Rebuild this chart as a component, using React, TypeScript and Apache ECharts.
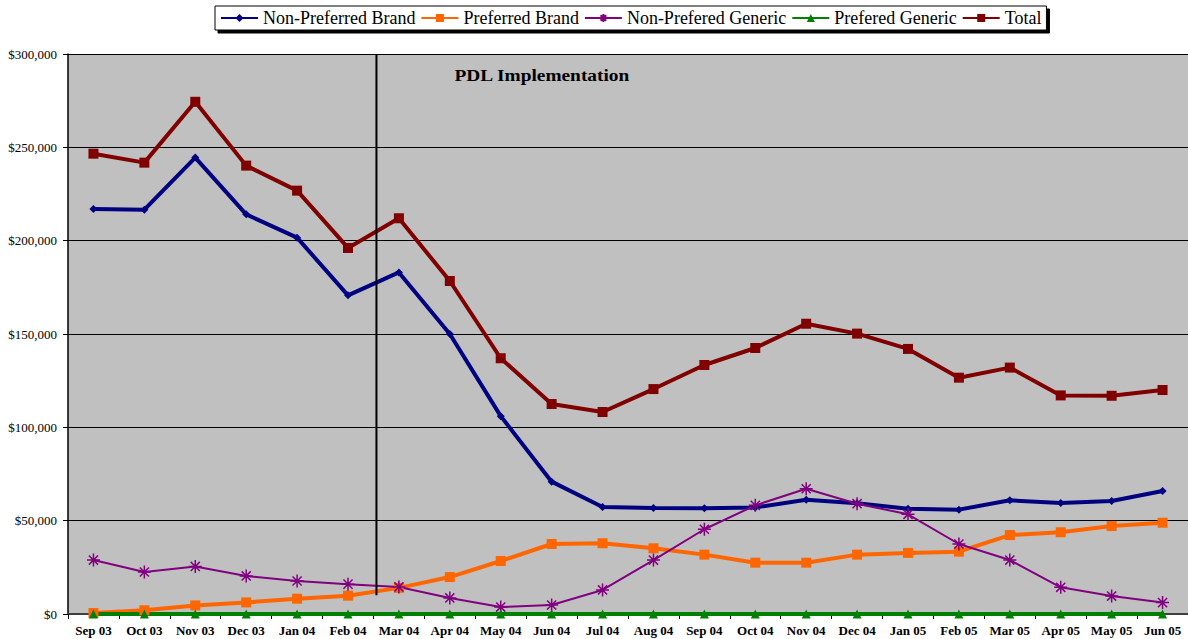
import React, { useEffect, useRef } from "react";
import * as echarts from "echarts";

const categories = [
  "Sep 03", "Oct 03", "Nov 03", "Dec 03", "Jan 04", "Feb 04", "Mar 04", "Apr 04",
  "May 04", "Jun 04", "Jul 04", "Aug 04", "Sep 04", "Oct 04", "Nov 04", "Dec 04",
  "Jan 05", "Feb 05", "Mar 05", "Apr 05", "May 05", "Jun 05",
];

const nonPreferredBrand = [
  217000, 216600, 244500, 214100, 201600, 170700, 183000, 150000, 106000, 70900,
  57300, 56800, 56600, 57100, 61200, 59300, 56400, 55900, 60900, 59500, 60500, 65900,
];
const preferredBrand = [
  500, 2000, 4600, 6200, 8200, 9800, 14000, 19800, 28400, 37500,
  37900, 35200, 31800, 27500, 27500, 31800, 32700, 33400, 42300, 43800, 47100, 48900,
];
const nonPreferedGeneric = [
  28900, 22500, 25500, 20400, 17700, 16000, 14500, 8600, 3700, 4800,
  12900, 28900, 45400, 58200, 67100, 59100, 53400, 37500, 28900, 14300, 9600, 6100,
];
const preferedGeneric = [
  0, 0, 0, 0, 0, 0, 0, 0, 0, 0, 0, 0, 0, 0, 0, 0, 0, 0, 0, 0, 0, 0,
];
const total = [
  246600, 241800, 274400, 240200, 226800, 196100, 212000, 178400, 137000, 112500,
  108200, 120500, 133400, 142500, 155500, 150200, 142000, 126600, 132000, 117100, 116900, 120000,
];

const seriesNames = [
  "Non-Preferred Brand", "Preferred Brand", "Non-Prefered Generic", "Prefered Generic", "Total",
];

const yTicks = { min: 0, max: 300000, interval: 50000 };
const annotationText = "PDL Implementation";
const implementationBetween = ["Feb 04", "Mar 04"];
const implementationLineBottomValue = 10000;

const FONT = "'Liberation Serif', 'Times New Roman', serif";
const STAR = "path://M0,5L10,5M1.5,1.5L8.5,8.5M8.5,1.5L1.5,8.5M5,0L5,10";

export default function App() {
  const ref = useRef<HTMLDivElement>(null);

  useEffect(() => {
    if (!ref.current) return;
    const chart = echarts.init(ref.current, null, { renderer: "svg" });
    const option: any = {
      animation: false,
      backgroundColor: "#ffffff",
      textStyle: { fontFamily: FONT },
      legend: {
        left: 215,
        top: 6,
        padding: [3, 5, 3, 5],
        itemGap: 5,
        itemWidth: 37,
        itemHeight: 10,
        backgroundColor: "#ffffff",
        borderColor: "#000000",
        borderWidth: 1,
        borderRadius: 0,
        shadowColor: "#000000",
        shadowOffsetX: 3,
        shadowOffsetY: 3,
        shadowBlur: 0,
        textStyle: { fontFamily: FONT, fontSize: 18, color: "#000000" },
        data: seriesNames,
      },
      grid: {
        left: 68,
        top: 54,
        width: 1125,
        height: 560,
        show: true,
        backgroundColor: "#C0C0C0",
        borderWidth: 0,
      },
      xAxis: {
        type: "category",
        data: categories,
        boundaryGap: true,
        axisLine: { show: true, lineStyle: { color: "#404040", width: 2 } },
        axisTick: { show: true, alignWithLabel: false, length: 5, lineStyle: { color: "#000000" } },
        axisLabel: {
          interval: 0,
          fontFamily: FONT,
          fontSize: 13,
          fontWeight: "bold",
          color: "#000000",
          margin: 10,
        },
      },
      yAxis: {
        type: "value",
        min: yTicks.min,
        max: yTicks.max,
        interval: yTicks.interval,
        axisLine: { show: true, lineStyle: { color: "#000000", width: 1.5 } },
        axisTick: { show: true, length: 5, lineStyle: { color: "#000000" } },
        splitLine: { show: true, lineStyle: { color: "#000000", width: 1 } },
        axisLabel: {
          fontFamily: FONT,
          fontSize: 13,
          color: "#000000",
          margin: 11,
          formatter: (v: number) => "$" + v.toLocaleString("en-US"),
        },
      },
      series: [
        {
          name: seriesNames[0],
          type: "line",
          data: nonPreferredBrand,
          symbol: "diamond",
          symbolSize: 8,
          lineStyle: { color: "#000080", width: 4 },
          itemStyle: { color: "#000080" },
        },
        {
          name: seriesNames[1],
          type: "line",
          data: preferredBrand,
          symbol: "rect",
          symbolSize: 10,
          lineStyle: { color: "#FF6600", width: 4 },
          itemStyle: { color: "#FF6600" },
        },
        {
          name: seriesNames[2],
          type: "line",
          data: nonPreferedGeneric,
          symbol: STAR,
          symbolSize: 13,
          lineStyle: { color: "#800080", width: 2 },
          itemStyle: { color: "none", borderColor: "#800080", borderWidth: 1.5 },
        },
        {
          name: seriesNames[3],
          type: "line",
          data: preferedGeneric,
          symbol: "triangle",
          symbolSize: 9,
          lineStyle: { color: "#008000", width: 4 },
          itemStyle: { color: "#008000" },
        },
        {
          name: seriesNames[4],
          type: "line",
          data: total,
          symbol: "rect",
          symbolSize: 10,
          lineStyle: { color: "#800000", width: 4 },
          itemStyle: { color: "#800000" },
        },
      ],
    };
    chart.setOption(option);

    const xa = chart.convertToPixel({ xAxisIndex: 0 }, implementationBetween[0]) as number;
    const xb = chart.convertToPixel({ xAxisIndex: 0 }, implementationBetween[1]) as number;
    const yTop = chart.convertToPixel({ yAxisIndex: 0 }, yTicks.max) as number;
    const yBottom = chart.convertToPixel({ yAxisIndex: 0 }, implementationLineBottomValue) as number;
    const xm = (xa + xb) / 2 + 3;
    chart.setOption({
      graphic: [
        {
          type: "line",
          shape: { x1: xm, y1: yTop, x2: xm, y2: yBottom },
          style: { stroke: "#000000", lineWidth: 2 },
          z: 10,
        },
        {
          type: "text",
          x: xm + 78,
          y: yTop + 21,
          scaleX: 1.14,
          style: {
            text: annotationText,
            fontFamily: FONT,
            fontSize: 17,
            fontWeight: "bold",
            fill: "#000000",
            verticalAlign: "middle",
          },
          z: 10,
        },
      ],
    });

    return () => chart.dispose();
  }, []);

  return (
    <div
      ref={ref}
      style={{ position: "absolute", left: 0, top: 0, width: 1188, height: 639, background: "#fff" }}
    />
  );
}
